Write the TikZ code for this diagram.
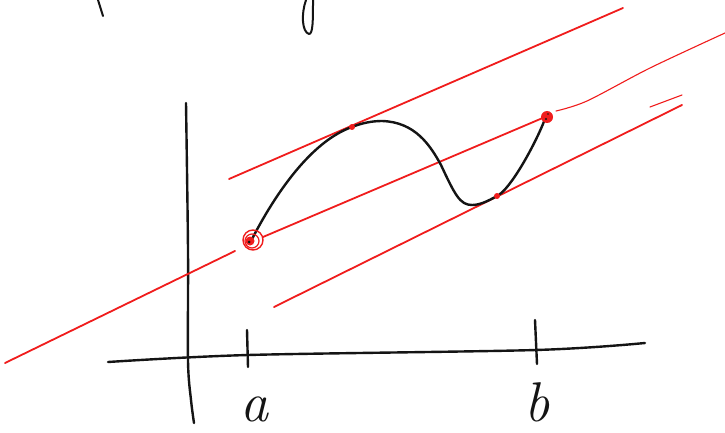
\documentclass[tikz,border=0pt]{standalone}
\usepackage{tikz}
\definecolor{pen}{RGB}{240,28,28}
\definecolor{ink}{RGB}{20,20,20}
\begin{document}
\begin{tikzpicture}[x=1pt,y=-1pt,
  blackstroke/.style={ink,line width=2.4pt,line cap=round,line join=round},
  redstroke/.style={pen,line width=1.8pt,line cap=round,line join=round},
  thinred/.style={pen,line width=1.1pt,line cap=round,line join=round},
  lbl/.style={ink,anchor=base,inner sep=0pt,text depth=0pt,font=\fontsize{56}{56}\selectfont\itshape}]
\useasboundingbox[fill=white] (0,0) rectangle (725,433);
% named points
\coordinate (A) at (253,240);
\coordinate (B) at (547,117);
\coordinate (T1) at (352,127);
\coordinate (T2) at (497,196);
% cut-off strokes at the top
\draw[blackstroke,line width=2pt] (98,0) -- (103,16);
\draw[blackstroke,line width=2pt] (306,0) .. controls (301,14) and (302,32) .. (309,34)
  .. controls (313,34) and (313,20) .. (313,0);
% axes
\draw[blackstroke] plot[smooth] coordinates {(186,103) (188,250) (188,361) (191,400) (194,423)};
\draw[blackstroke] plot[smooth] coordinates {(108,362) (248,355) (536,350) (645,343)};
% ticks
\draw[blackstroke] (247,330) -- (248,367);
\draw[blackstroke] (535,320) -- (537,364);
% labels
\node[lbl] (la) at (254,421) {a};
\node[lbl] (lb) at (537,421) {b};
% red lines
\draw[redstroke] (229,179) -- (623,8);
\draw[redstroke] (5,363) -- (235,251);
\draw[redstroke] (263,237) -- (545,117);
\draw[thinred] plot[smooth] coordinates {(556,111) (587,101) (650,68) (725,33)};
\draw[redstroke] (274,307) -- (682,105);
\draw[thinred] (650,107) -- (682,95);
% function curve
\draw[blackstroke] (252,239) .. controls (280,185) and (315,140) .. (T1)
  .. controls (362,123) and (372,121) .. (382,121)
  .. controls (415,122) and (430,145) .. (441,165)
  .. controls (455,195) and (460,205) .. (472,205)
  .. controls (480,205) and (488,201) .. (T2)
  .. controls (510,190) and (535,145) .. (545,119);
% points
\fill[pen] (T1) circle (3pt);
\fill[pen] (T2) circle (3pt);
\fill[pen] (250,241) circle (4.5pt);
\draw[pen,line width=1.4pt] (A) circle (10pt);
\draw[pen,line width=1.2pt] (252,241) circle (7pt);
\fill[pen] (B) circle (6pt);
\fill[ink] (249,242) circle (1.5pt);
\fill[ink] (546,119) circle (1.1pt);
\fill[ink] (548,114) circle (0.9pt);
\end{tikzpicture}
\end{document}
